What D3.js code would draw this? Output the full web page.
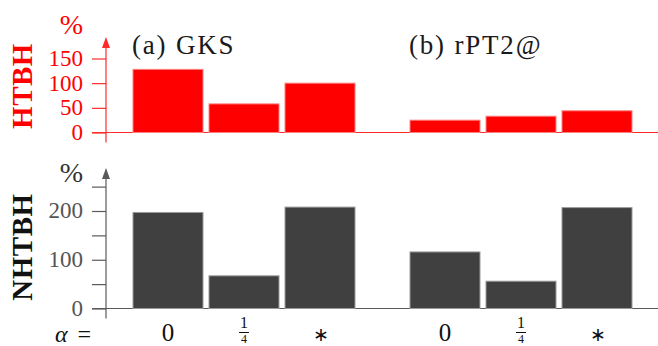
<!DOCTYPE html>
<html>
<head>
<meta charset="utf-8">
<script src="https://cdn.jsdelivr.net/npm/d3@7"></script>
<style>
	body { margin: 0; background: #fff; }
	svg text { font-family: "Liberation Serif", serif; }
</style>
</head>
<body>
<div id="chart"></div>
<script>
'use strict';

var groups = ['(a) GKS', '(b) rPT2@'];
var alphas = ['0', '1/4', '*'];

// HTBH in %, per group
var htbhA = [128, 58, 100];
var htbhB = [25, 33, 44];
// NHTBH in %, per group
var nhtbhA = [197, 67, 208];
var nhtbhB = [116, 56, 207];

var topTicks = [0, 50, 100, 150];
var botTicks = [0, 50, 100, 150, 200, 250];
var botLabels = [0, 100, 200];

var width = 658, height = 346;
var axisX = 106;
var serif = '"Liberation Serif", serif';

var svg = d3.select('#chart').append('svg')
	.attr('width', width)
	.attr('height', height)
	.attr('font-family', serif);

var xGroup = d3.scaleBand()
	.domain(groups)
	.range([130, 635])
	.paddingInner(49 / 277)
	.paddingOuter(0);

var xAlpha = d3.scaleBand()
	.domain(alphas)
	.range([0, xGroup.bandwidth()])
	.paddingInner(6 / 76)
	.paddingOuter(3 / 76);

var yTop = d3.scaleLinear().domain([0, 150]).range([132.5, 58.5]);
var yBot = d3.scaleLinear().domain([0, 200]).range([308.5, 211]);

function rows (a, b)	{
	var out = [];
	[a, b].forEach(function (vals, g)	{
		vals.forEach(function (v, i)	{
			out.push({ group: groups[g], alpha: alphas[i], value: v });
		});
	});
	return out;
}

function panel (opts)	{
	var g = svg.append('g');

	// baseline
	g.append('line')
		.attr('x1', 92).attr('x2', width)
		.attr('y1', opts.y(0)).attr('y2', opts.y(0))
		.attr('stroke', opts.axisColor)
		.attr('stroke-width', 1.2);

	// bars
	g.selectAll('rect.bar')
		.data(rows(opts.a, opts.b))
		.enter().append('rect')
		.attr('class', 'bar')
		.attr('x', function (d) { return xGroup(d.group) + xAlpha(d.alpha); })
		.attr('width', xAlpha.bandwidth())
		.attr('y', function (d) { return opts.y(d.value); })
		.attr('height', function (d) { return opts.y(0) - opts.y(d.value); })
		.attr('fill', opts.fill)
		.attr('stroke', opts.edge)
		.attr('stroke-width', 1);

	// y axis
	var axis = d3.axisLeft(opts.y)
		.tickValues(opts.ticks)
		.tickSize(14)
		.tickSizeOuter(0)
		.tickPadding(9)
		.tickFormat(function (d) { return opts.labels.indexOf(d) > -1 ? d : ''; });

	var ax = g.append('g')
		.attr('transform', 'translate(' + axisX + ',0)')
		.call(axis)
		.attr('font-family', serif)
		.attr('font-size', 23);

	ax.select('.domain').remove();
	ax.selectAll('.tick line')
		.attr('stroke', opts.axisColor)
		.attr('stroke-width', 1.2);
	ax.selectAll('.tick text')
		.attr('fill', opts.labelColor)
		.attr('dy', '0.3em');

	// axis line with arrow head
	g.append('line')
		.attr('x1', axisX).attr('x2', axisX)
		.attr('y1', opts.top + 8).attr('y2', opts.y(0) + 10)
		.attr('stroke', opts.axisColor)
		.attr('stroke-width', 1.2);
	g.append('path')
		.attr('d', 'M' + axisX + ',' + opts.top +
			'L' + (axisX - 4) + ',' + (opts.top + 11) +
			'L' + (axisX + 4) + ',' + (opts.top + 11) + 'Z')
		.attr('fill', opts.axisColor);

	// percent unit
	g.append('text')
		.attr('x', 83).attr('y', opts.unitY)
		.attr('text-anchor', 'end')
		.attr('fill', opts.unitColor)
		.style('font-size', '28px')
		.text('%');

	// rotated title
	g.append('text')
		.attr('transform', 'translate(32,' + opts.titleY + ') rotate(-90)')
		.attr('text-anchor', 'middle')
		.attr('fill', opts.titleColor)
		.style('font-size', '29px')
		.style('font-weight', 'bold')
		.style('letter-spacing', '0.5px')
		.text(opts.title);
}

panel({
	y: yTop, a: htbhA, b: htbhB,
	ticks: topTicks, labels: topTicks,
	fill: '#ff0000', edge: '#ff8080',
	axisColor: '#ff2a2a', labelColor: '#ff0000',
	unitColor: '#ff0000', titleColor: '#ff0000',
	top: 37, unitY: 34, title: 'HTBH', titleY: 86
});

panel({
	y: yBot, a: nhtbhA, b: nhtbhB,
	ticks: botTicks, labels: botLabels,
	fill: '#404040', edge: '#9a9a9a',
	axisColor: '#5a5a5a', labelColor: '#555',
	unitColor: '#333', titleColor: '#111',
	top: 168, unitY: 182, title: 'NHTBH', titleY: 247
});

// group titles
svg.selectAll('text.group')
	.data(groups)
	.enter().append('text')
	.attr('class', 'group')
	.attr('x', function (d) { return xGroup(d) + 2; })
	.attr('y', 54)
	.attr('fill', '#1a1a1a')
	.style('font-size', '27px')
	.style('letter-spacing', '1.8px')
	.text(function (d) { return d; });

// alpha labels along the bottom
var lab = svg.append('g').attr('fill', '#111');

lab.append('text')
	.attr('x', 55).attr('y', 342)
	.style('font-size', '24px')
	.style('letter-spacing', '2px')
	.html('<tspan font-style="italic">α</tspan> =');

var cells = [];
groups.forEach(function (g)	{
	alphas.forEach(function (a) { cells.push({ group: g, alpha: a }); });
});

cells.forEach(function (c)	{
	var cx = xGroup(c.group) + xAlpha(c.alpha) + xAlpha.bandwidth() / 2;
	if (c.alpha === '1/4')	{
		lab.append('text')
			.attr('x', cx).attr('y', 328)
			.attr('text-anchor', 'middle')
			.style('font-size', '16px')
			.text('1');
		lab.append('line')
			.attr('x1', cx - 5).attr('x2', cx + 5)
			.attr('y1', 332.5).attr('y2', 332.5)
			.attr('stroke', '#111')
			.attr('stroke-width', 1);
		lab.append('text')
			.attr('x', cx).attr('y', 343)
			.attr('text-anchor', 'middle')
			.style('font-size', '12px')
			.text('4');
	} else if (c.alpha === '*')	{
		lab.append('text')
			.attr('x', cx + 1).attr('y', 341)
			.attr('text-anchor', 'middle')
			.style('font-size', '19px')
			.attr('font-family', '"DejaVu Serif", serif')
			.text('∗');
	} else {
		lab.append('text')
			.attr('x', cx).attr('y', 341)
			.attr('text-anchor', 'middle')
			.style('font-size', '25px')
			.text(c.alpha);
	}
});
</script>
</body>
</html>
